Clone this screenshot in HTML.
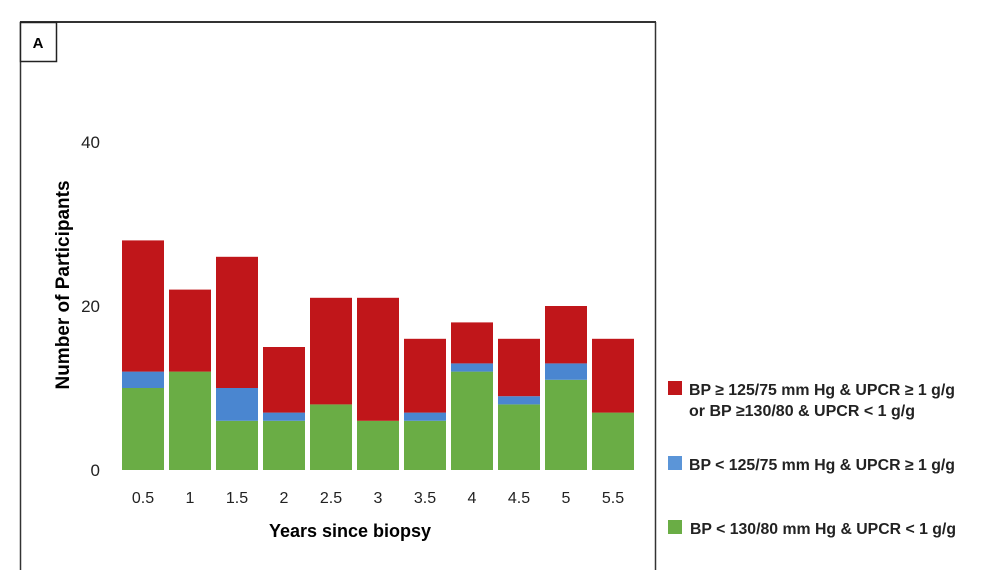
<!DOCTYPE html>
<html><head><meta charset="utf-8"><style>
body{margin:0;background:#fff;}
svg{display:block;font-family:"Liberation Sans",sans-serif;}
</style></head><body>
<svg width="983" height="570" xmlns="http://www.w3.org/2000/svg">
<rect x="0" y="0" width="983" height="570" fill="#fff"/>
<line x1="20" y1="22" x2="656" y2="22" stroke="#333" stroke-width="2"/>
<line x1="20.5" y1="22" x2="20.5" y2="570" stroke="#333" stroke-width="1.5"/>
<line x1="655.5" y1="22" x2="655.5" y2="570" stroke="#333" stroke-width="1.5"/>
<rect x="20.5" y="22.5" width="36" height="39" fill="#fff" stroke="#222" stroke-width="1.5"/>
<text x="38" y="48" font-size="15" font-weight="bold" text-anchor="middle">A</text>
<g font-size="17" fill="#222" text-anchor="end">
<text x="100" y="148">40</text><text x="100" y="312">20</text><text x="100" y="476">0</text>
</g>
<text transform="translate(69,285) rotate(-90)" font-size="19" font-weight="bold" text-anchor="middle">Number of Participants</text>
<g id="bars"></g>
<g font-size="16" fill="#222" text-anchor="middle">
<text x="143" y="503">0.5</text><text x="190" y="503">1</text><text x="237" y="503">1.5</text><text x="284" y="503">2</text><text x="331" y="503">2.5</text><text x="378" y="503">3</text><text x="425" y="503">3.5</text><text x="472" y="503">4</text><text x="519" y="503">4.5</text><text x="566" y="503">5</text><text x="613" y="503">5.5</text>
</g>
<text x="350" y="537" font-size="18" font-weight="bold" text-anchor="middle">Years since biopsy</text>
<rect x="668" y="381" width="14" height="14" fill="#c0161a"/>
<rect x="668" y="456" width="14" height="14" fill="#5b95d8"/>
<rect x="668" y="520" width="14" height="14" fill="#6aad45"/>
<g font-size="15.5" font-weight="bold" fill="#222">
<text x="689" y="395" textLength="266" lengthAdjust="spacingAndGlyphs">BP ≥ 125/75 mm Hg &amp; UPCR ≥ 1 g/g</text>
<text x="689" y="416" textLength="226" lengthAdjust="spacingAndGlyphs">or BP ≥130/80 &amp; UPCR &lt; 1 g/g</text>
<text x="689" y="470" textLength="266" lengthAdjust="spacingAndGlyphs">BP &lt; 125/75 mm Hg &amp; UPCR ≥ 1 g/g</text>
<text x="690" y="534" textLength="266" lengthAdjust="spacingAndGlyphs">BP &lt; 130/80 mm Hg &amp; UPCR &lt; 1 g/g</text>
</g>
<script>
var d=[[10,12,28],[12,12,22],[6,10,26],[6,7,15],[8,8,21],[6,6,21],[6,7,16],[12,13,18],[8,9,16],[11,13,20],[7,7,16]];
var g=document.getElementById('bars'),ns='http://www.w3.org/2000/svg';
function r(x,y0,y1,c){var e=document.createElementNS(ns,'rect');var a=470-y1*8.2,b=470-y0*8.2;e.setAttribute('x',x);e.setAttribute('y',a);e.setAttribute('width',42);e.setAttribute('height',Math.max(0,b-a));e.setAttribute('fill',c);g.appendChild(e);}
d.forEach(function(v,i){var x=122+i*47;r(x,0,v[0],'#6aad45');r(x,v[0],v[1],'#4a86d0');r(x,v[1],v[2],'#c0161a');});
</script>
</svg>
</body></html>
